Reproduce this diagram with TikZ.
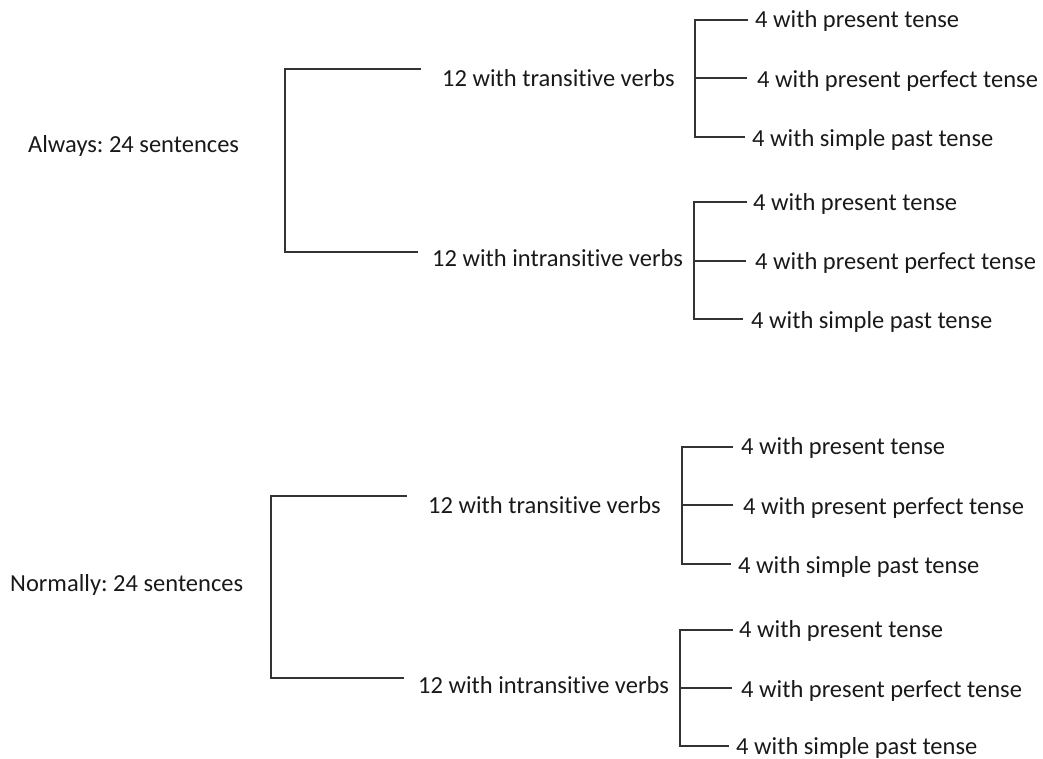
\documentclass[tikz,border=0pt]{standalone}
\usepackage{fontspec}
\setmainfont{Carlito}[Ligatures=NoCommon]
\frenchspacing
\tikzset{
  lbl/.style={anchor=base west, inner sep=0pt, text=black!90,
    font=\fontsize{24.5}{28}\selectfont},
  link/.style={draw=black!80, line width=1.2pt}
}
\begin{document}
\begin{tikzpicture}[x=1pt,y=-1pt]
    \useasboundingbox (0,0) rectangle (1043,758);
    % upper tree
    \node [lbl] (alw) at (28,152) {Always: 24 sentences};
    \node [lbl] (tvA) at (442,86) {12 with transitive verbs};
    \node [lbl] (ivA) at (432,266) {12 with intransitive verbs};
    \coordinate (kA) at (285,160);
    \draw [link] ([xshift=-21pt,yshift=17pt]tvA.base west) -| (kA)
        |- ([xshift=-14pt,yshift=14pt]ivA.base west);
    % leaves of transitive
    \node [lbl] (prA) at (755,27) {4 with present tense};
    \node [lbl] (ppA) at (757,87) {4 with present perfect tense};
    \node [lbl] (spA) at (752,146) {4 with simple past tense};
    \coordinate (jA) at (695,78);
    \draw [link] ([xshift=-7pt,yshift=7pt]prA.base west) -| (jA)
        |- ([xshift=-7pt,yshift=9pt]spA.base west);
    \draw [link] (jA) -- ([xshift=-10pt,yshift=9pt]ppA.base west);
    % leaves of intransitive
    \node [lbl] (prB) at (753,210) {4 with present tense};
    \node [lbl] (ppB) at (755,269) {4 with present perfect tense};
    \node [lbl] (spB) at (751,328) {4 with simple past tense};
    \coordinate (jB) at (694,261);
    \draw [link] ([xshift=-6pt,yshift=8pt]prB.base west) -| (jB)
        |- ([xshift=-8pt,yshift=9pt]spB.base west);
    \draw [link] (jB) -- ([xshift=-9pt,yshift=8pt]ppB.base west);
    % lower tree
    \node [lbl] (nrm) at (10,591) {Normally: 24 sentences};
    \node [lbl] (tvC) at (428,513) {12 with transitive verbs};
    \node [lbl] (ivC) at (418,693) {12 with intransitive verbs};
    \coordinate (kC) at (271,590);
    \draw [link] ([xshift=-21pt,yshift=17pt]tvC.base west) -| (kC)
        |- ([xshift=-14pt,yshift=15pt]ivC.base west);
    % leaves of transitive
    \node [lbl] (prC) at (741,454) {4 with present tense};
    \node [lbl] (ppC) at (743,514) {4 with present perfect tense};
    \node [lbl] (spC) at (738,573) {4 with simple past tense};
    \coordinate (jC) at (682,505);
    \draw [link] ([xshift=-8pt,yshift=7pt]prC.base west) -| (jC)
        |- ([xshift=-7pt,yshift=9pt]spC.base west);
    \draw [link] (jC) -- ([xshift=-10pt,yshift=9pt]ppC.base west);
    % leaves of intransitive
    \node [lbl] (prD) at (739,637) {4 with present tense};
    \node [lbl] (ppD) at (741,697) {4 with present perfect tense};
    \node [lbl] (spD) at (736,754) {4 with simple past tense};
    \coordinate (jD) at (680,688);
    \draw [link] ([xshift=-6pt,yshift=7pt]prD.base west) -| (jD)
        |- ([xshift=-7pt,yshift=8pt]spD.base west);
    \draw [link] (jD) -- ([xshift=-9pt,yshift=9pt]ppD.base west);
\end{tikzpicture}
\end{document}
